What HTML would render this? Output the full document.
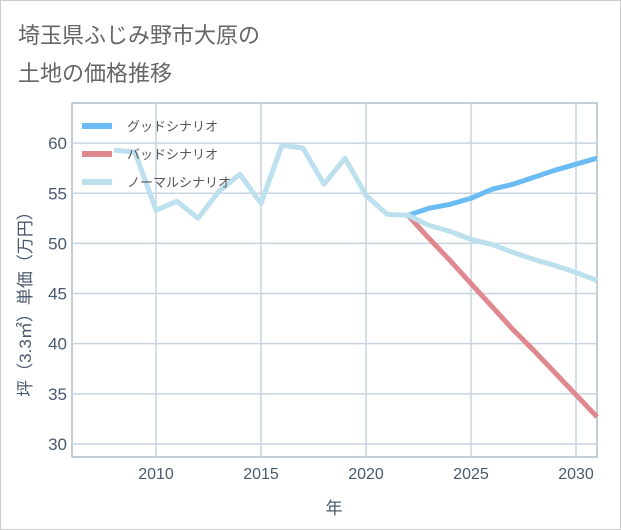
<!DOCTYPE html>
<html><head><meta charset="utf-8"><style>
body{margin:0;background:#fff;font-family:"Liberation Sans","Noto Sans CJK JP",sans-serif;}
#wrap{position:relative;width:619px;height:528px;border:1px solid #ccc;background:#fff;}
.t{position:absolute;left:17px;font-size:22px;color:#666;}
</style></head><body>
<div id="wrap">
<div class="t" style="top:17px">埼玉県ふじみ野市大原の</div>
<div class="t" style="top:55px">土地の価格推移</div>
<svg id="c" width="621" height="530" style="position:absolute;left:-1px;top:-1px"></svg>
</div>
<script>
const xTicks=[2010,2015,2020,2025,2030];
const yTicks=[30,35,40,45,50,55,60];
const normalYears=[2008,2009,2010,2011,2012,2013,2014,2015,2016,2017,2018,2019,2020,2021,2022,2023,2024,2025,2026,2027,2028,2029,2030,2031];
const normalVals=[59.3,59.1,53.3,54.2,52.5,55.2,56.9,54.0,59.8,59.5,55.9,58.5,54.8,52.9,52.8,51.8,51.2,50.4,49.9,49.1,48.4,47.8,47.1,46.3];
const futureYears=[2022,2023,2024,2025,2026,2027,2028,2029,2030,2031];
const goodVals=[52.8,53.5,53.9,54.5,55.4,55.9,56.6,57.3,57.9,58.5];
const badVals=[52.8,50.5,48.3,46.0,43.7,41.4,39.3,37.1,34.9,32.7];
const X0=72,X1=597,Y0=103,Y1=457,xmin=2006,xmax=2031,ymin=28.7,ymax=64;
const sx=v=>X0+(v-xmin)/(xmax-xmin)*(X1-X0);
const sy=v=>Y1-(v-ymin)/(ymax-ymin)*(Y1-Y0);
const svg=document.getElementById('c');const NS='http://www.w3.org/2000/svg';
function mk(t,a,p){const e=document.createElementNS(NS,t);for(const k in a)e.setAttribute(k,a[k]);(p||svg).appendChild(e);return e;}
let e=mk('rect',{x:X0,y:Y0,width:X1-X0,height:Y1-Y0,fill:'#fff',stroke:'#8899aa','stroke-width':1});


xTicks.forEach(t=>{let l=mk('line',{x1:sx(t),x2:sx(t),y1:Y0,y2:Y1,stroke:'#c8d4e0','stroke-width':1.5});


let tx=mk('text',{x:sx(t),y:Y1+22,'text-anchor':'middle','font-size':16,fill:'#4a5a6e'});tx.textContent=t;

});
yTicks.forEach(t=>{let l=mk('line',{x1:X0,x2:X1,y1:sy(t),y2:sy(t),stroke:'#c8d4e0','stroke-width':1.5});


let tx=mk('text',{x:X0-5,y:sy(t)+6,'text-anchor':'end','font-size':17,fill:'#4a5a6e'});tx.textContent=t;

});
let xt=mk('text',{x:334,y:514,'text-anchor':'middle','font-size':17,fill:'#4a5a6e'});xt.textContent='年';


let yt=mk('text',{transform:'translate(31,300) rotate(-90)','text-anchor':'middle','font-size':17,fill:'#4a5a6e'});yt.textContent='坪（3.3㎡）単価（万円）';


function line(xs,ys,col,name){const p=xs.map((x,i)=>sx(x)+','+sy(ys[i])).join(' ');
let l=mk('polyline',{points:p,fill:'none',stroke:col,'stroke-width':5,'stroke-linejoin':'round'});

}
line(futureYears,badVals,'#e08890','bad-scenario-line');
line(futureYears,goodVals,'#6bbcf4','good-scenario-line');
line(normalYears,normalVals,'#bde0ee','normal-scenario-line');
const leg=[['グッドシナリオ','#6bbcf4'],['バッドシナリオ','#e08890'],['ノーマルシナリオ','#bde0ee']];
leg.forEach((d,i)=>{const y=126+i*28;
let l=mk('line',{x1:82,x2:112,y1:y,y2:y,stroke:d[1],'stroke-width':6});


let tx=mk('text',{x:127,y:y+5,'font-size':13,fill:'#555'});tx.textContent=d[0];

});
</script>
</body></html>
